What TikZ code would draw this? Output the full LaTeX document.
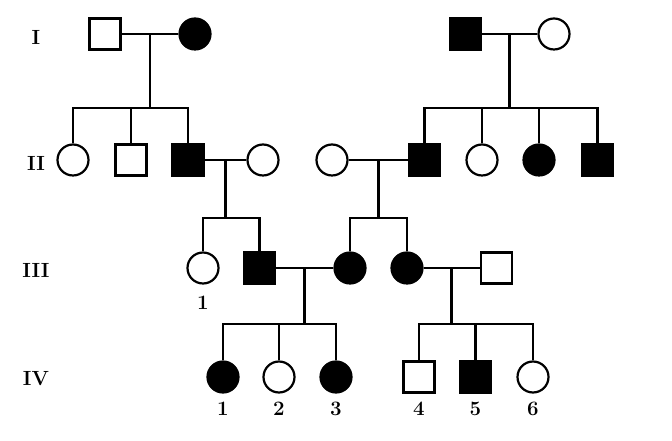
\documentclass[tikz,border=0pt]{standalone}
\usetikzlibrary{positioning, calc}

\begin{document}
\begin{tikzpicture}[
  x=1pt, y=1pt,
  font=\fontsize{20.5}{24}\selectfont\bfseries,
  male/.style={draw, rectangle, minimum size=31pt, inner sep=0pt, line width=2.2pt, fill=white},
  female/.style={draw, circle, minimum size=31pt, inner sep=0pt, line width=2.2pt, fill=white},
  aff/.style={fill=black},
  ln/.style={line width=2.9pt, draw=black},
  gen/.style={anchor=center},
  num/.style={inner sep=0pt}
]
\useasboundingbox (0,0) rectangle (672,441);
\def\sI{333}   % sibship line, generation II
\def\sII{223}  % sibship line, generation III
\def\sIII{117} % sibship line, generation IV

% GENERATION LABELS
\node[gen] (gI)   at (36,404) {I};
\node[gen] (gII)  at (36,278) {II};
\node[gen] (gIII) at (36,171) {III};
\node[gen] (gIV)  at (36,62)  {IV};

% GENERATION I
\node[male] (i1) at (105,407) {};
\node[female, aff] (i2) at (195,407) {};
\node[male, aff] (i3) at (465.5,407) {};
\node[female] (i4) at (554,407) {};

% GENERATION II
\node[female] (ii1) at (73,281) {};
\node[male] (ii2) at (131,281) {};
\node[male, aff] (ii3) at (188,281) {};
\node[female] (ii4) at (263,281) {};
\node[female] (ii5) at (332,281) {};
\node[male, aff] (ii6) at (424.5,281) {};
\node[female] (ii7) at (482,281) {};
\node[female, aff] (ii8) at (539,281) {};
\node[male, aff] (ii9) at (597.5,281) {};

% GENERATION III
\node[female] (iii1) at (203,173) {};
\node[male, aff] (iii2) at (259.5,173) {};
\node[female, aff] (iii3) at (350,173) {};
\node[female, aff] (iii4) at (407,173) {};
\node[male] (iii5) at (496.5,173) {};
\node[num, below=11pt of iii1] (n31) {1};

% GENERATION IV
\node[female, aff] (iv1) at (223,64) {};
\node[female] (iv2) at (279,64) {};
\node[female, aff] (iv3) at (336,64) {};
\node[male] (iv4) at (419,64) {};
\node[male, aff] (iv5) at (475.5,64) {};
\node[female] (iv6) at (533,64) {};
\node[num, below=8pt of iv1] (n41) {1};
\node[num, below=8pt of iv2] (n42) {2};
\node[num, below=8pt of iv3] (n43) {3};
\node[num, below=8pt of iv4] (n44) {4};
\node[num, below=8pt of iv5] (n45) {5};
\node[num, below=8pt of iv6] (n46) {6};

% MATINGS AND DESCENT
\coordinate (m1) at ($(i1)!0.5!(i2)$);
\coordinate (s1) at (m1 |- 0,\sI);
\draw[ln] (i1) -- (i2);
\draw[ln] (m1) -- (s1);
\draw[ln] (s1) -| (ii1);
\draw[ln] (s1) -| (ii2);
\draw[ln] (s1) -| (ii3);

\coordinate (m2) at ($(i3)!0.5!(i4)$);
\coordinate (s2) at (m2 |- 0,\sI);
\draw[ln] (i3) -- (i4);
\draw[ln] (m2) -- (s2);
\draw[ln] (s2) -| (ii6);
\draw[ln] (s2) -| (ii7);
\draw[ln] (s2) -| (ii8);
\draw[ln] (s2) -| (ii9);

\coordinate (m3) at ($(ii3)!0.5!(ii4)$);
\coordinate (s3) at (m3 |- 0,\sII);
\draw[ln] (ii3) -- (ii4);
\draw[ln] (m3) -- (s3);
\draw[ln] (s3) -| (iii1);
\draw[ln] (s3) -| (iii2);

\coordinate (m4) at ($(ii5)!0.5!(ii6)$);
\coordinate (s4) at (m4 |- 0,\sII);
\draw[ln] (ii5) -- (ii6);
\draw[ln] (m4) -- (s4);
\draw[ln] (s4) -| (iii3);
\draw[ln] (s4) -| (iii4);

\coordinate (m5) at ($(iii2)!0.5!(iii3)$);
\coordinate (s5) at (m5 |- 0,\sIII);
\draw[ln] (iii2) -- (iii3);
\draw[ln] (m5) -- (s5);
\draw[ln] (s5) -| (iv1);
\draw[ln] (s5) -| (iv2);
\draw[ln] (s5) -| (iv3);

\coordinate (m6) at ($(iii4)!0.5!(iii5)$);
\coordinate (s6) at (m6 |- 0,\sIII);
\draw[ln] (iii4) -- (iii5);
\draw[ln] (m6) -- (s6);
\draw[ln] (s6) -| (iv4);
\draw[ln] (s6) -| (iv5);
\draw[ln] (s6) -| (iv6);

\end{tikzpicture}
\end{document}
